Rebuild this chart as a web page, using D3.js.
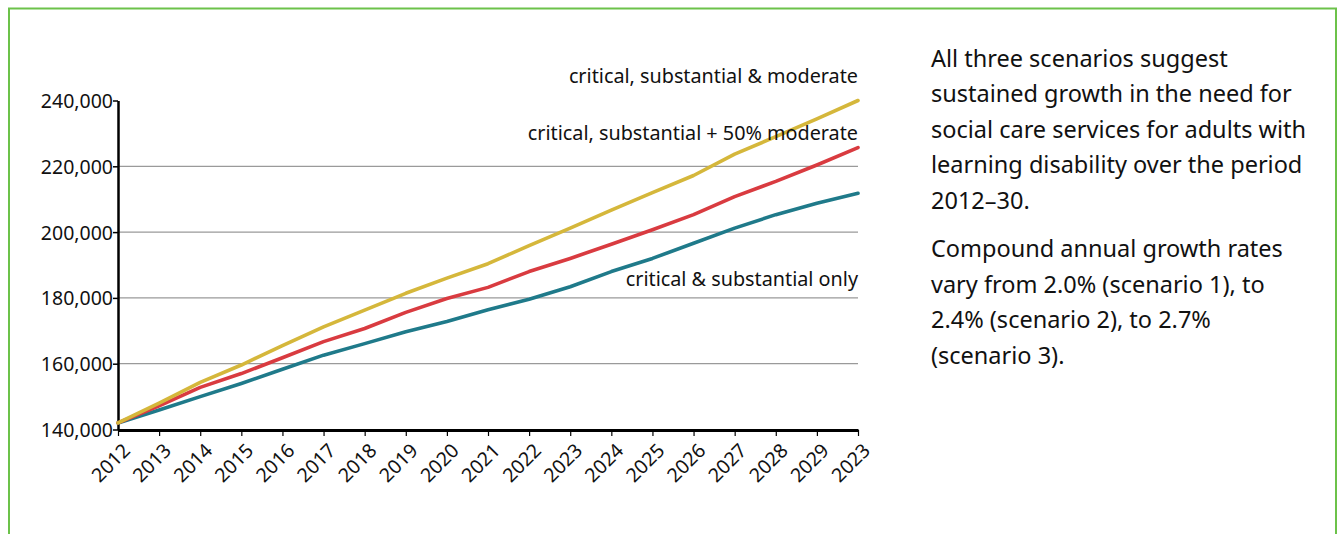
<!DOCTYPE html>
<html>
<head>
<meta charset="utf-8">
<script src="https://cdn.jsdelivr.net/npm/d3@7"></script>
<style>
  html, body { margin: 0; padding: 0; background: #fff; }
  svg { display: block; }
  text { font-family: "Noto Sans", "Open Sans", sans-serif; fill: #111; }
</style>
</head>
<body>
<svg id="chart" width="1338" height="534"></svg>
<script>
// ---- data ----
const tickLabels = ["2012","2013","2014","2015","2016","2017","2018","2019","2020","2021","2022","2023","2024","2025","2026","2027","2028","2029","2023"];
const yTicks = [140000, 160000, 180000, 200000, 220000, 240000];
const seriesNames = ["critical, substantial & moderate", "critical, substantial + 50% moderate", "critical & substantial only"];
const moderateAll = [142000,148000,154300,159600,165500,171200,176300,181400,186000,190400,195900,201200,206700,212000,217200,223700,229000,234400,240000];
const moderateHalf = [142000,147200,152800,157000,161800,166700,170700,175600,179800,183200,188000,192000,196300,200700,205300,210800,215400,220400,225700];
const substantialOnly = [142000,145900,150000,154000,158300,162600,166100,169700,172800,176400,179600,183400,188000,192000,196600,201200,205300,208800,211800];
const paragraph1 = ["All three scenarios suggest", "sustained growth in the need for", "social care services for adults with", "learning disability over the period", "2012–30."];
const paragraph2 = ["Compound annual growth rates", "vary from 2.0% (scenario 1), to", "2.4% (scenario 2), to 2.7%", "(scenario 3)."];

// ---- layout ----
const svg = d3.select("#chart");
const colors = ["#d5b73b", "#d93b40", "#1f7a8a"];

// green frame
svg.append("rect")
  .attr("x", 9).attr("y", 8.5)
  .attr("width", 1327).attr("height", 600)
  .attr("fill", "none").attr("stroke", "#6cc24a").attr("stroke-width", 2);

const x = d3.scalePoint().domain(d3.range(tickLabels.length)).range([118, 858]);
const y = d3.scaleLinear().domain([140000, 240000]).range([429.5, 100.5]);

// gridlines
svg.append("g").selectAll("line")
  .data(yTicks.filter(v => v > 140000 && v < 240000))
  .join("line")
  .attr("x1", 118).attr("x2", 858)
  .attr("y1", d => y(d)).attr("y2", d => y(d))
  .attr("stroke", "#9a9a9a").attr("stroke-width", 1.3);

// y axis
const yAxis = svg.append("g").attr("transform", "translate(118,0)")
  .call(d3.axisLeft(y).tickValues(yTicks).tickFormat(d3.format(",")).tickSize(5).tickSizeOuter(0));
yAxis.select(".domain").attr("stroke", "#000").attr("stroke-width", 2.5);
yAxis.selectAll(".tick line").attr("stroke", "#000").attr("stroke-width", 1.5);
yAxis.selectAll(".tick text").attr("x", -5).attr("dy", "0.36em")
  .style("font-size", "19.5px").style("font-family", "'Noto Sans', sans-serif").attr("fill", "#111");

// x axis
const xAxis = svg.append("g").attr("transform", "translate(0,430)")
  .call(d3.axisBottom(x).tickFormat(i => tickLabels[i]).tickSize(6).tickSizeOuter(0));
xAxis.select(".domain").attr("stroke", "#000").attr("stroke-width", 3);
xAxis.selectAll(".tick line").attr("stroke", "#000").attr("stroke-width", 1.2);
xAxis.selectAll(".tick text")
  .attr("text-anchor", "end")
  .attr("transform", "translate(8,17) rotate(-45)")
  .attr("x", 0).attr("y", 0).attr("dy", "0.35em")
  .style("font-size", "19.5px").style("font-family", "'Noto Sans', sans-serif").attr("fill", "#111");

// lines
const line = d3.line().x((d, i) => x(i)).y(d => y(d));
const allSeries = [moderateAll, moderateHalf, substantialOnly];
svg.append("g").selectAll("path")
  .data(allSeries.slice().reverse())
  .join("path")
  .attr("d", d => line(d))
  .attr("fill", "none")
  .attr("stroke", (d, i) => colors[2 - i])
  .attr("stroke-width", 3.6)
  .attr("stroke-linejoin", "round")
  .attr("stroke-linecap", "round");

// series labels
const labelY = [83, 139.5, 285.5];
svg.append("g").selectAll("text")
  .data(seriesNames)
  .join("text")
  .attr("x", 858).attr("y", (d, i) => labelY[i])
  .attr("text-anchor", "end")
  .style("font-size", "19.8px")
  .text(d => d);

// side text
const tg = svg.append("g");
paragraph1.forEach((t, i) => {
  tg.append("text").attr("x", 931).attr("y", 66.5 + i * 35.5).style("font-size", "23.5px").text(t);
});
paragraph2.forEach((t, i) => {
  tg.append("text").attr("x", 931).attr("y", 257 + i * 35.5).style("font-size", "23.5px").text(t);
});
</script>
</body>
</html>
